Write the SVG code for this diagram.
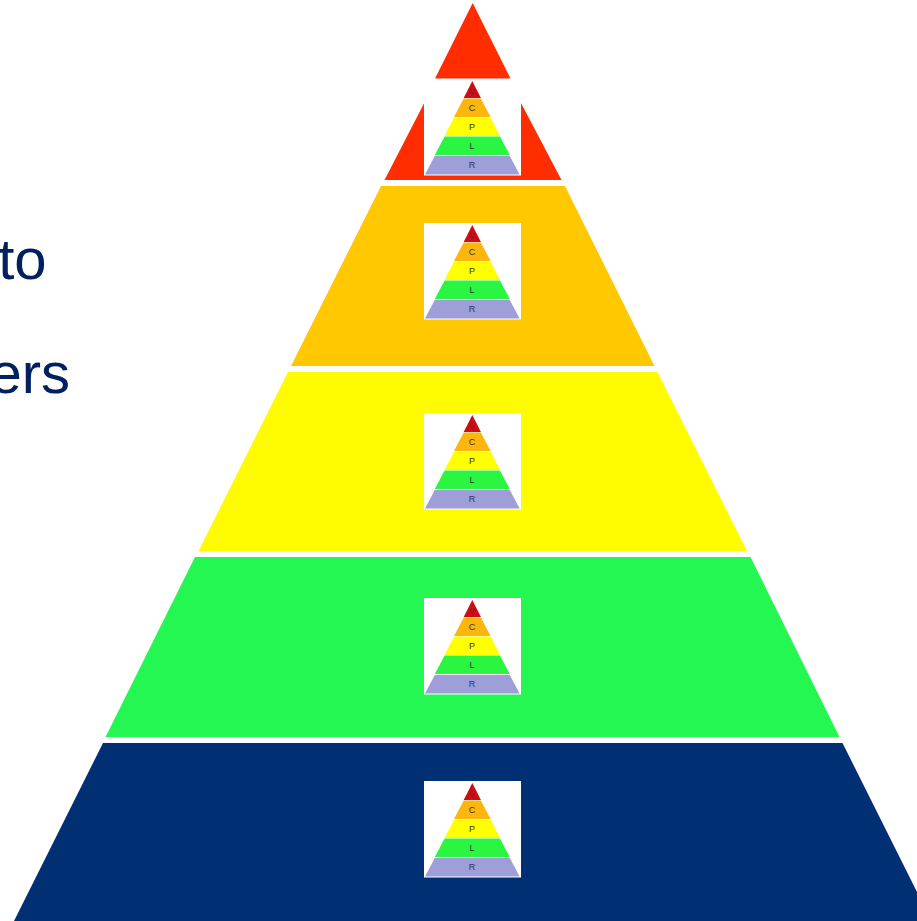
<svg xmlns="http://www.w3.org/2000/svg" xmlns:xlink="http://www.w3.org/1999/xlink" width="917" height="921" viewBox="0 0 917 921">
<style>
text{font-family:"Liberation Sans",Arial,sans-serif}
.big{font-size:58px;fill:#002060}
.mini{font-size:9px;fill:#333333;text-anchor:middle}
</style>
<defs>
<filter id="soft" x="-5%" y="-5%" width="110%" height="110%"><feGaussianBlur stdDeviation="0.6"/></filter>
<g id="icon">
<rect x="0" y="0" width="97" height="96.5" fill="#ffffff"/>
<g filter="url(#soft)">
<polygon points="48.3,2 39.7,19 56.9,19" fill="#cc0a14"/>
<polygon points="39.7,19.5 30,38 66.6,38 56.9,19.5" fill="#fdb60f"/>
<polygon points="30,38.5 20.6,57 76,57 66.6,38.5" fill="#ffff00"/>
<polygon points="20.6,57.5 10.8,76 85.8,76 76,57.5" fill="#2cf53f"/>
<polygon points="10.8,77 1,95.5 95.6,95.5 85.8,77" fill="#9e9ed9"/>
</g>
<text class="mini" x="48" y="16" style="fill:#8c1a1a">V</text>
<text class="mini" x="48" y="31.5">C</text>
<text class="mini" x="48" y="51">P</text>
<text class="mini" x="48" y="70">L</text>
<text class="mini" x="48" y="89" style="fill:#333366">R</text>
</g>
</defs>
<rect width="917" height="921" fill="#ffffff"/>
<g id="caption">
<text class="big" x="-1.8" y="278.5">to</text>
<text class="big" x="-10.6" y="393.3">ers</text>
</g>
<g id="level-top">
<polygon points="472.7,3 435,78.5 510.5,78.5" fill="#ff2d00"/>
</g>
<g id="level-v">
<polygon points="434,84 511,84 561.5,180 384.5,180" fill="#ff2d00"/>
<use href="#icon" xlink:href="#icon" x="424" y="79"/>
</g>
<g id="level-c">
<polygon points="381,186 565,186 654.5,366 291,366" fill="#ffc800"/>
<use href="#icon" xlink:href="#icon" x="424" y="223"/>
</g>
<g id="level-p">
<polygon points="288,372 657.5,372 747,551 198.5,551" fill="#fffc00"/>
<use href="#icon" xlink:href="#icon" x="424" y="413"/>
</g>
<g id="level-l">
<polygon points="195,557 750.5,557 839.5,737 105.5,737" fill="#24f652"/>
<use href="#icon" xlink:href="#icon" x="424" y="598"/>
</g>
<g id="level-r">
<polygon points="103,743 842.5,743 931.5,921 14,921" fill="#003073"/>
<use href="#icon" xlink:href="#icon" x="424" y="781"/>
</g>
</svg>
